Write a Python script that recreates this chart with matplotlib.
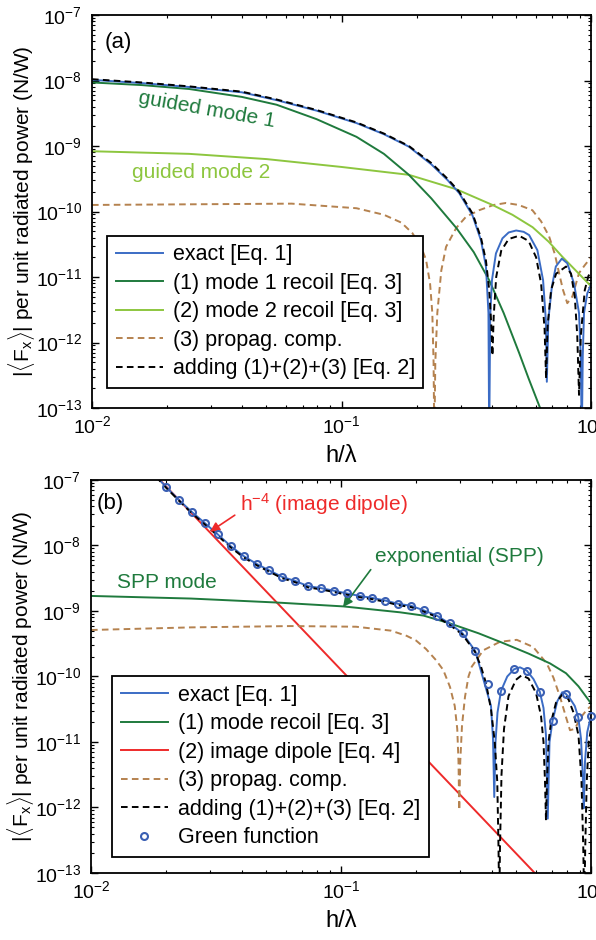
import numpy as np
import matplotlib
matplotlib.use("Agg")
import matplotlib.pyplot as plt
from matplotlib.lines import Line2D
from matplotlib.ticker import NullFormatter

plt.rcParams['font.family'] = ['Liberation Sans', 'DejaVu Sans']
plt.rcParams['mathtext.fontset'] = 'custom'
plt.rcParams['mathtext.rm'] = 'Liberation Sans'
plt.rcParams['mathtext.it'] = 'Liberation Sans:italic'
plt.rcParams['axes.linewidth'] = 1.3

# all curves stored as log10(h/lambda), log10(|<Fx>| in N/W)

# ---- panel (a): dielectric slab with two guided modes ----
a_exact_lx = [-2.00, -1.80, -1.61, -1.40, -1.26, -1.10, -0.94, -0.83, -0.73, -0.64,
              -0.575, -0.528, -0.475, -0.441, -0.421, -0.411, -0.408, -0.404, -0.397,
              -0.381, -0.355, -0.330, -0.300, -0.270, -0.248, -0.215, -0.192, -0.181,
              -0.177, -0.171, -0.157, -0.141, -0.117, -0.095, -0.068, -0.048, -0.041,
              -0.037, -0.033, -0.028, -0.015, 0.0]
a_exact_ly = [-7.99, -8.04, -8.10, -8.18, -8.30, -8.46, -8.65, -8.82, -9.01, -9.28,
              -9.52, -9.72, -10.06, -10.44, -10.84, -11.55, -13.5, -11.60, -11.05,
              -10.64, -10.41, -10.32, -10.29, -10.31, -10.36, -10.59, -11.05, -11.66,
              -12.60, -11.66, -11.15, -10.84, -10.72, -10.79, -11.10, -11.55, -12.20,
              -13.5, -12.20, -11.55, -11.25, -11.12]

a_sum_lx = [-2.00, -1.80, -1.61, -1.40, -1.26, -1.10, -0.94, -0.83, -0.73, -0.64,
            -0.575, -0.528, -0.475, -0.441, -0.421, -0.408, -0.400, -0.395, -0.390,
            -0.380, -0.360, -0.330, -0.288, -0.250, -0.220, -0.200, -0.186, -0.180,
            -0.174, -0.160, -0.140, -0.100, -0.080, -0.065, -0.055, -0.048, -0.041,
            -0.025, -0.010, 0.0]
a_sum_ly = [-7.98, -8.03, -8.09, -8.17, -8.29, -8.45, -8.64, -8.81, -9.00, -9.26,
            -9.50, -9.70, -10.03, -10.40, -10.75, -11.20, -11.70, -12.20, -11.60,
            -11.00, -10.60, -10.42, -10.37, -10.45, -10.70, -11.10, -11.80, -12.55,
            -11.75, -11.20, -10.95, -10.84, -10.95, -11.30, -11.90, -12.80, -11.90,
            -11.20, -10.98, -10.94]

a_mode1_lx = [-2.00, -1.80, -1.61, -1.40, -1.26, -1.10, -0.94, -0.83, -0.73, -0.64,
              -0.54, -0.47, -0.408, -0.35, -0.288, -0.25, -0.204, -0.17]
a_mode1_ly = [-8.03, -8.07, -8.13, -8.25, -8.37, -8.59, -8.86, -9.12, -9.44, -9.80,
              -10.25, -10.62, -11.05, -11.55, -12.16, -12.55, -13.0, -13.4]

a_mode2_lx = [-2.00, -1.61, -1.30, -1.00, -0.73, -0.54, -0.395, -0.315, -0.234,
              -0.17, -0.115, 0.0]
a_mode2_ly = [-9.08, -9.12, -9.20, -9.32, -9.44, -9.66, -9.90, -10.05, -10.24,
              -10.46, -10.69, -11.14]

a_prop_lx = [-2.00, -1.60, -1.20, -0.94, -0.83, -0.76, -0.716, -0.68, -0.661, -0.645,
             -0.636, -0.631, -0.628, -0.624, -0.616, -0.600, -0.581, -0.540, -0.501,
             -0.448, -0.390, -0.341, -0.290, -0.235, -0.200, -0.168, -0.145, -0.128,
             -0.112, -0.095, -0.075, -0.060, -0.048, -0.025, 0.0]
a_prop_ly = [-9.90, -9.89, -9.88, -9.95, -10.05, -10.17, -10.33, -10.55, -10.74, -11.10,
             -11.55, -12.30, -13.5, -12.30, -11.55, -10.90, -10.54, -10.25, -10.08,
             -9.98, -9.90, -9.87, -9.90, -9.98, -10.15, -10.38, -10.65, -10.94,
             -11.20, -11.40, -11.30, -11.10, -10.94, -10.82, -10.70]

# ---- panel (b): metal surface, SPP + image dipole ----
b_green_lx = [-1.699, -1.647, -1.596, -1.544, -1.493, -1.441, -1.390, -1.338, -1.287,
              -1.235, -1.184, -1.132, -1.081, -1.029, -0.978, -0.926, -0.875, -0.823,
              -0.772, -0.720, -0.669, -0.617, -0.566, -0.514, -0.463, -0.411, -0.360,
              -0.308, -0.257, -0.205, -0.154, -0.102, -0.051, 0.000]
b_green_ly = [-7.11, -7.31, -7.49, -7.66, -7.83, -8.01, -8.16, -8.28, -8.38,
              -8.48, -8.54, -8.62, -8.65, -8.69, -8.73, -8.77, -8.80, -8.84,
              -8.89, -8.92, -8.99, -9.07, -9.19, -9.34, -9.61, -10.12, -10.22,
              -9.89, -9.91, -10.23, -10.68, -10.26, -10.62, -10.60]

b_exact_lx = [-1.74] + b_green_lx[:25] + [
    -0.400, -0.392, -0.387, -0.382, -0.374, -0.360, -0.335, -0.308, -0.284, -0.257,
    -0.230, -0.205, -0.190, -0.180, -0.173, -0.166, -0.154, -0.135, -0.115, -0.102,
    -0.085, -0.065, -0.051, -0.040, -0.033, -0.029, -0.024, -0.015, 0.0]
b_exact_ly = [-6.94] + b_green_ly[:25] + [
    -10.45, -10.95, -11.84, -11.00, -10.55, -10.22, -10.00, -9.89, -9.86, -9.91,
    -10.04, -10.23, -10.48, -10.90, -12.17, -11.00, -10.68, -10.38, -10.24, -10.26,
    -10.33, -10.45, -10.62, -10.95, -11.50, -12.01, -11.30, -10.85, -10.60]

b_sum_lx = [-1.74, -1.699, -1.647, -1.596, -1.544, -1.493, -1.441, -1.390, -1.338,
            -1.287, -1.235, -1.184, -1.132, -1.081, -1.029, -0.978, -0.926, -0.875,
            -0.823, -0.772, -0.720, -0.669, -0.617, -0.566, -0.514, -0.463, -0.440,
            -0.420, -0.400, -0.385, -0.375, -0.370, -0.367, -0.364, -0.358, -0.348,
            -0.330, -0.300, -0.277, -0.250, -0.220, -0.200, -0.190, -0.184, -0.180,
            -0.176, -0.170, -0.160, -0.140, -0.112, -0.090, -0.070, -0.050, -0.038,
            -0.031, -0.027, -0.023, -0.017, -0.009, 0.0]
b_sum_ly = [-6.95, -7.12, -7.32, -7.51, -7.68, -7.85, -8.03, -8.18, -8.30,
            -8.40, -8.50, -8.56, -8.64, -8.67, -8.71, -8.75, -8.79, -8.82,
            -8.86, -8.91, -8.94, -9.01, -9.09, -9.21, -9.36, -9.63, -9.85,
            -10.10, -10.50, -11.00, -11.60, -12.60, -13.5, -12.60, -11.50, -10.80,
            -10.30, -10.05, -9.98, -10.03, -10.25, -10.60, -11.00, -11.60, -12.20,
            -11.60, -11.00, -10.70, -10.40, -10.26, -10.35, -10.55, -10.90, -11.60,
            -12.60, -13.5, -12.60, -11.60, -11.00, -10.80]

b_spp_lx = [-2.00, -1.60, -1.26, -0.99, -0.764, -0.67, -0.564, -0.45, -0.364, -0.25,
            -0.164, -0.10, -0.05, 0.0]
b_spp_ly = [-8.77, -8.81, -8.87, -8.93, -9.02, -9.07, -9.19, -9.34, -9.47, -9.65,
            -9.80, -9.95, -10.15, -10.41]

b_image_lx = [-1.733, -0.205]
b_image_ly = [-6.965, -13.08]

b_prop_lx = [-2.00, -1.60, -1.20, -0.94, -0.80, -0.737, -0.70, -0.66, -0.62, -0.591,
             -0.564, -0.545, -0.535, -0.530, -0.527, -0.523, -0.516, -0.504, -0.490,
             -0.477, -0.431, -0.364, -0.297, -0.231, -0.177, -0.150, -0.124, -0.100,
             -0.084, -0.065, -0.040, -0.017, 0.0]
b_prop_ly = [-9.29, -9.25, -9.23, -9.24, -9.30, -9.38, -9.45, -9.58, -9.75, -9.90,
             -10.16, -10.45, -10.80, -11.30, -12.04, -11.30, -10.75, -10.31, -10.00,
             -9.85, -9.60, -9.47, -9.44, -9.55, -9.80, -10.02, -10.31, -10.62,
             -10.82, -10.80, -10.62, -10.51, -10.45]

x_decades = [-2, -1, 0]
y_decades = [-13, -12, -11, -10, -9, -8, -7]

c_blue = '#3b6cc5'
c_dkgreen = '#1f7a3d'
c_ltgreen = '#8dc63f'
c_brown = '#b5824f'
c_red = '#ee2a2a'
c_circ = '#3a5fb3'
dash = (0, (3.4, 2.2))


def p(v):
    return 10.0 ** np.asarray(v, dtype=float)


def minor_ticks(decades):
    return [m * 10.0 ** d for d in decades[:-1] for m in range(2, 10)]


def style_axes(ax):
    ax.set_xscale('log')
    ax.set_yscale('log')
    ax.set_xlim(1e-2, 1e0)
    ax.set_ylim(1e-13, 1e-7)
    ax.set_xticks(p(x_decades))
    ax.set_yticks(p(y_decades))
    ax.set_xticks(minor_ticks(x_decades), minor=True)
    ax.set_yticks(minor_ticks(y_decades), minor=True)
    ax.xaxis.set_minor_formatter(NullFormatter())
    ax.yaxis.set_minor_formatter(NullFormatter())
    ax.tick_params(which='both', direction='in', top=True, right=True, labelsize=14)
    ax.tick_params(which='major', length=5, width=1.0)
    ax.tick_params(which='minor', length=2.5, width=0.8)
    ax.tick_params(axis='x', pad=5)
    ax.tick_params(axis='y', pad=7)
    ax.set_xlabel('h/λ', fontsize=17, labelpad=6)
    ax.set_ylabel(r'$|\langle\mathrm{F}_{\mathrm{x}}\rangle|$ per unit radiated power (N/W)',
                  fontsize=15, labelpad=-1)


def add_legend(ax, handles, labels, anchor):
    leg = ax.legend(handles, labels, loc='lower left', bbox_to_anchor=anchor,
                    borderaxespad=0, fontsize=15.5, frameon=True, fancybox=False,
                    edgecolor='black', framealpha=1, handlelength=2.2,
                    handletextpad=0.45, labelspacing=0.35, borderpad=0.4)
    leg.get_frame().set_linewidth(1.3)
    return leg


fig = plt.figure(figsize=(5.96, 9.40), dpi=100)
ax_a = fig.add_axes([92 / 596, (940 - 408) / 940, 499 / 596, 393 / 940])
ax_b = fig.add_axes([91 / 596, (940 - 873) / 940, 500 / 596, 393 / 940])

# panel (a)
lw = 1.4
ax_a.plot(p(a_prop_lx), p(a_prop_ly), color=c_brown, lw=lw, ls=dash)
ax_a.plot(p(a_mode2_lx), p(a_mode2_ly), color=c_ltgreen, lw=lw)
ax_a.plot(p(a_mode1_lx), p(a_mode1_ly), color=c_dkgreen, lw=lw)
ax_a.plot(p(a_exact_lx), p(a_exact_ly), color=c_blue, lw=lw)
ax_a.plot(p(a_sum_lx), p(a_sum_ly), color='black', lw=lw, ls=dash)
style_axes(ax_a)
ax_a.text(0.052, 0.929, '(a)', transform=ax_a.transAxes, fontsize=16,
          ha='center', va='center')
ax_a.text(0.0288, 3.55e-9, 'guided mode 1', color=c_dkgreen, fontsize=15,
          rotation=-10, rotation_mode='anchor', ha='center', va='center')
ax_a.text(0.0275, 4.0e-10, 'guided mode 2', color=c_ltgreen, fontsize=15,
          ha='center', va='center')

h_a = [Line2D([], [], color=c_blue, lw=lw),
       Line2D([], [], color=c_dkgreen, lw=lw),
       Line2D([], [], color=c_ltgreen, lw=lw),
       Line2D([], [], color=c_brown, lw=lw, ls=dash),
       Line2D([], [], color='black', lw=lw, ls=dash)]
l_a = ['exact [Eq. 1]', '(1) mode 1 recoil [Eq. 3]', '(2) mode 2 recoil [Eq. 3]',
       '(3) propag. comp.', 'adding (1)+(2)+(3) [Eq. 2]']
add_legend(ax_a, h_a, l_a, (0.030, 0.051))

# panel (b)
ax_b.plot(p(b_image_lx), p(b_image_ly), color=c_red, lw=lw)
ax_b.plot(p(b_prop_lx), p(b_prop_ly), color=c_brown, lw=lw, ls=dash)
ax_b.plot(p(b_spp_lx), p(b_spp_ly), color=c_dkgreen, lw=lw)
ax_b.plot(p(b_exact_lx), p(b_exact_ly), color=c_blue, lw=lw)
ax_b.plot(p(b_sum_lx), p(b_sum_ly), color='black', lw=lw, ls=dash)
ax_b.plot(p(b_green_lx), p(b_green_ly), ls='none', marker='o', ms=5, mfc='none',
          mec=c_circ, mew=1.5, clip_on=False, zorder=5)
style_axes(ax_b)
ax_b.text(0.038, 0.941, '(b)', transform=ax_b.transAxes, fontsize=16,
          ha='center', va='center')
ax_b.annotate(r'h$^{-4}$ (image dipole)', xy=(0.0299, 1.62e-8), xytext=(0.0394, 4.3e-8),
              color=c_red, fontsize=15, ha='left', va='center',
              arrowprops=dict(arrowstyle='-|>', color=c_red, lw=1.2,
                              mutation_scale=14, relpos=(0.0, 0.2),
                              shrinkA=2, shrinkB=0))
ax_b.annotate('exponential (SPP)', xy=(0.1019, 1.15e-9), xytext=(0.137, 6.9e-9),
              color=c_dkgreen, fontsize=15, ha='left', va='center',
              arrowprops=dict(arrowstyle='-|>', color=c_dkgreen, lw=1.2,
                              mutation_scale=14, relpos=(0.0, 0.1),
                              shrinkA=2, shrinkB=0))
ax_b.text(0.0201, 2.7e-9, 'SPP mode', color=c_dkgreen, fontsize=15,
          ha='center', va='center')

h_b = [Line2D([], [], color=c_blue, lw=lw),
       Line2D([], [], color=c_dkgreen, lw=lw),
       Line2D([], [], color=c_red, lw=lw),
       Line2D([], [], color=c_brown, lw=lw, ls=dash),
       Line2D([], [], color='black', lw=lw, ls=dash),
       Line2D([], [], ls='none', marker='o', ms=5, mfc='none', mec=c_circ, mew=1.5)]
l_b = ['exact [Eq. 1]', '(1) mode recoil [Eq. 3]', '(2) image dipole [Eq. 4]',
       '(3) propag. comp.', 'adding (1)+(2)+(3) [Eq. 2]', 'Green function']
add_legend(ax_b, h_b, l_b, (0.042, 0.041))

fig.savefig('out.png', dpi=100)
